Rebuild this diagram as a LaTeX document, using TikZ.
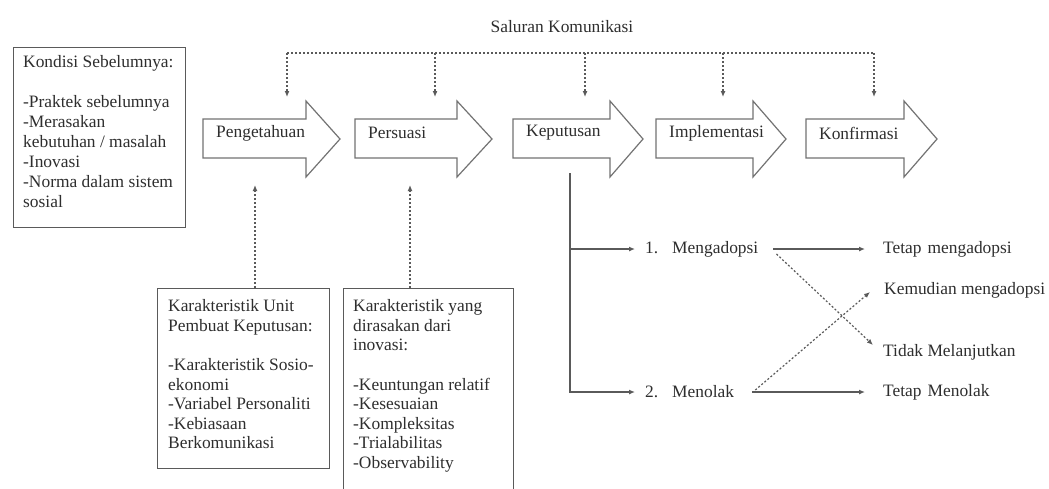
\documentclass[tikz,border=0pt]{standalone}
\usepackage{fontspec}
\setmainfont{Liberation Serif}
\usetikzlibrary{arrows.meta}
\definecolor{ink}{HTML}{2E2E2E}
\definecolor{lin}{HTML}{5A5A5A}
\begin{document}
\begin{tikzpicture}[x=1pt,y=-1pt,
  lbl/.style={inner sep=0pt, text=ink, font=\fontsize{17.4}{20}\selectfont},
  boxtxt/.style={inner sep=0pt, text=ink, align=left, anchor=north west},
  frame/.style={draw=lin, line width=1.3pt, anchor=north west, inner sep=0pt},
  stageline/.style={draw=lin!85, line width=1.2pt, line join=miter},
  dotline/.style={draw=lin, line width=1.2pt, dash pattern=on 2pt off 2pt},
  tip/.style={-{Latex[length=6pt,width=5pt]}},
  solid line/.style={draw=lin, line width=1.2pt}
]
\clip (0,0) rectangle (1049,488);
\fill[white] (0,0) rectangle (1049,488);

% ---------- stage arrows ----------
\newcommand\stagearrow[5]{%
  \draw[stageline] (#2,119) -- (#3,119) -- (#3,101) -- (#4,139) -- (#3,177) -- (#3,158) -- (#2,158) -- cycle;
  \node[lbl, anchor=west] (#1) at (#2+13,133) {#5};
}
\stagearrow{peng}{203}{306}{340}{Pengetahuan}
\stagearrow{pers}{355}{457}{492}{Persuasi}
\stagearrow{kepu}{513}{610}{643}{Keputusan}
\stagearrow{impl}{656}{753}{786}{Implementasi}
\stagearrow{konf}{806}{904}{937}{Konfirmasi}

% ---------- Saluran Komunikasi ----------
\node[lbl] (saluran) at (562,27) {Saluran Komunikasi};
\coordinate (d1) at (287,53);
\coordinate (d2) at (435,53);
\coordinate (d3) at (585,53);
\coordinate (d4) at (723,53);
\coordinate (d5) at (874,53);
\coordinate (e1) at (287,97);
\coordinate (e2) at (435,97);
\coordinate (e3) at (585,97);
\coordinate (e4) at (723,97);
\coordinate (e5) at (874,97);
\draw[dotline] (d1) -- (d5);
\foreach \i in {1,...,5} {\draw[dotline, tip] (d\i) -- (e\i);}

% ---------- Kondisi Sebelumnya ----------
\node[frame, minimum width=172pt, minimum height=180pt] (kondisi) at (13,47) {};
\node[boxtxt, font=\fontsize{17.4}{20}\selectfont] (kondisitxt) at (23,55.5) {Kondisi Sebelumnya:\\[20pt]
-Praktek sebelumnya\\
-Merasakan\\
kebutuhan / masalah\\
-Inovasi\\
-Norma dalam sistem\\
sosial};

% ---------- Karakteristik Unit ----------
\node[frame, minimum width=172pt, minimum height=180pt] (unit) at (157,288) {};
\node[boxtxt, font=\fontsize{17.4}{19.6}\selectfont] (unittxt) at (168,299.5) {Karakteristik Unit\\
Pembuat Keputusan:\\[19.6pt]
-Karakteristik Sosio-\\
ekonomi\\
-Variabel Personaliti\\
-Kebiasaan\\
Berkomunikasi};

% ---------- Karakteristik inovasi ----------
\node[frame, minimum width=170pt, minimum height=220pt] (inov) at (343,288) {};
\node[boxtxt, font=\fontsize{17.4}{19.6}\selectfont] (inovtxt) at (353,299.5) {Karakteristik yang\\
dirasakan dari\\
inovasi:\\[19.6pt]
-Keuntungan relatif\\
-Kesesuaian\\
-Kompleksitas\\
-Trialabilitas\\
-Observability};

\coordinate (u1) at (255,185);
\coordinate (u2) at (410,185);
\draw[dotline, tip] (unit.north -| u1) -- (u1);
\draw[dotline, tip] (inov.north -| u2) -- (u2);

% ---------- decision branches ----------
\node[lbl, anchor=west] (adopt) at (645,249) {1.\hspace{14pt}Mengadopsi};
\node[lbl, anchor=west] (tolak) at (645,392) {2.\hspace{14pt}Menolak};
\node[lbl, anchor=west] (tetapA) at (883,249) {Tetap\hspace{6pt}mengadopsi};
\node[lbl, anchor=west] (kemudian) at (884,290) {Kemudian mengadopsi};
\node[lbl, anchor=west] (tidak) at (883,352) {Tidak Melanjutkan};
\node[lbl, anchor=west] (tetapM) at (883,392) {Tetap\hspace{6pt}Menolak};

\coordinate (vtop) at (570,173);
\draw[solid line, tip] (vtop) |- ([xshift=-10pt]tolak.west);
\draw[solid line, tip] (vtop |- adopt.west) -- ([xshift=-10pt]adopt.west);
\draw[solid line, tip] ([xshift=15pt]adopt.east) -- ([xshift=-18pt]tetapA.west);
\draw[solid line, tip] ([xshift=18pt]tolak.east) -- ([xshift=-18pt]tetapM.west);
\draw[dotline, tip] ([xshift=18pt,yshift=-5pt]adopt.east) -- ([xshift=-10pt,yshift=7pt]tidak.west);
\draw[dotline, tip] ([xshift=21pt,yshift=2pt]tolak.east) -- ([xshift=-14pt,yshift=-2pt]kemudian.west);
\end{tikzpicture}
\end{document}
